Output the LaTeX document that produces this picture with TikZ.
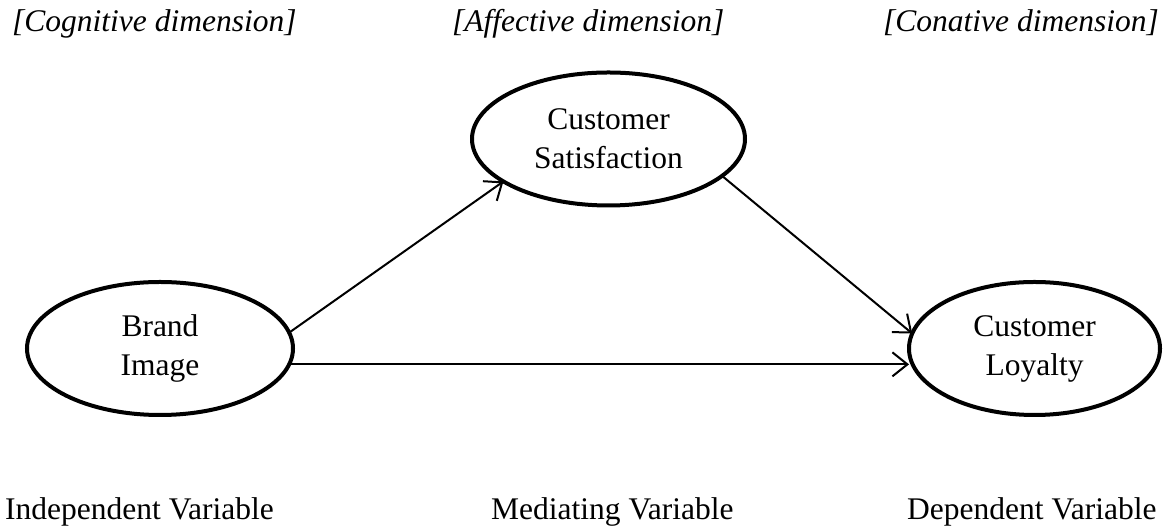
\documentclass[tikz,border=0pt]{standalone}
\usepackage{fontspec}
\setmainfont{Liberation Serif}
\usetikzlibrary{shapes.geometric,arrows.meta}
\begin{document}
\begin{tikzpicture}[x=1pt,y=1pt,
  construct/.style={ellipse,draw,line width=4pt,inner sep=0pt,outer sep=0pt,
    align=center,font=\fontsize{31.5}{39}\selectfont},
  dimlabel/.style={anchor=base west,inner sep=0pt,
    font=\fontsize{31.5}{39}\selectfont\itshape},
  rolelabel/.style={anchor=base west,inner sep=0pt,
    font=\fontsize{31.5}{39}\selectfont},
  path/.style={line width=2pt,-{Straight Barb[length=15pt,width=24pt,line width=2pt]}}]
\useasboundingbox (0,0) rectangle (1168,529);

% latent constructs
\node[construct,minimum width=266pt,minimum height=133pt] (bi) at (160,180.5) {Brand\\Image};
\node[construct,minimum width=273pt,minimum height=133pt] (cs) at (608.5,390) {Customer\\Satisfaction};
\node[construct,minimum width=251pt,minimum height=133pt] (cl) at (1034.5,180.5) {Customer\\Loyalty};

% dimension headings
\node[dimlabel] (hcog) at (12,497) {[Cognitive dimension]};
\node[dimlabel] (haff) at (452,497) {[Affective dimension]};
\node[dimlabel] (hcon) at (883,497) {[Conative dimension]};

% variable roles
\node[rolelabel] (riv) at (5,9) {Independent Variable};
\node[rolelabel] (rmv) at (491,9) {Mediating Variable};
\node[rolelabel] (rdv) at (907,9) {Dependent Variable};

% structural paths
\draw[path] (bi.7) -- (cs.202);
\draw[path] (cs.342) -- (cl.173.6);
\draw[path] (bi.353) -- (bi.353 -| cl.west);
\end{tikzpicture}
\end{document}
